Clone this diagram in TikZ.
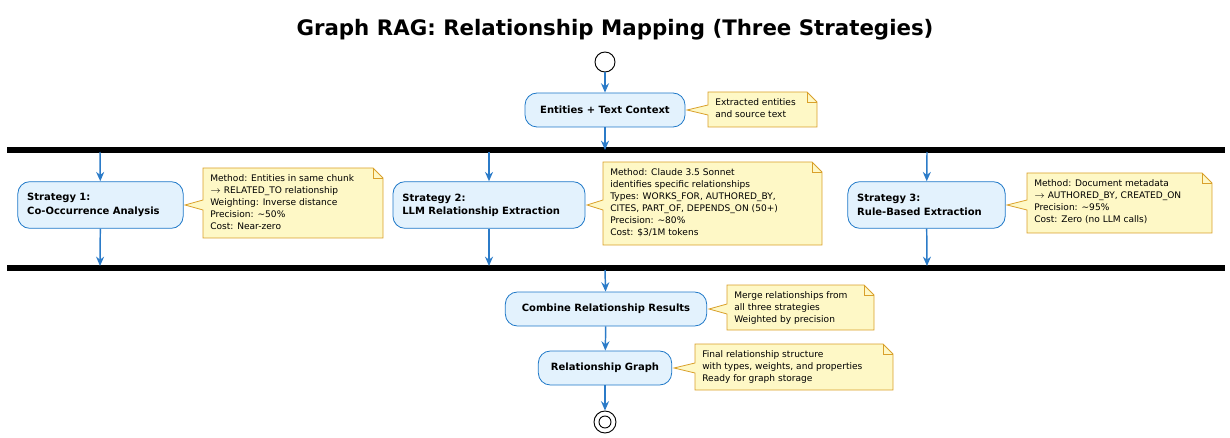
\documentclass[tikz,border=0pt]{standalone}
\usepackage{fontspec}
\setmainfont{DejaVu Sans}
\usetikzlibrary{arrows.meta}
\definecolor{actfill}{HTML}{E3F2FD}
\definecolor{actline}{HTML}{1E78C8}
\definecolor{notefill}{HTML}{FEF8C6}
\definecolor{noteline}{HTML}{D9A02A}
\definecolor{flow}{HTML}{2B7BC8}

\tikzset{
  act/.style={rectangle, rounded corners=9pt, draw=actline, fill=actfill, line width=0.6pt,
    font=\bfseries\fontsize{7.5}{10}\selectfont, align=left, inner sep=0pt},
  flowarr/.style={-{Stealth[length=7pt,width=6pt]}, draw=flow, line width=1.1pt},
  bar/.style={line width=4.5pt, black},
  notetxt/.style={font=\fontsize{6.8}{9}\selectfont, align=left, anchor=north west, inner sep=0pt}
}

% note: name, left x, top y, right x, bottom y, pointer tip x, pointer y, text
\newcommand{\notebox}[8]{
  \draw[draw=noteline, fill=notefill, line width=0.6pt]
    (#2,#3) -- (#4-10,#3) -- (#4,#3+10) -- (#4,#5) -- (#2,#5) -- (#2,#7+5)
    -- (#6,#7) -- (#2,#7-5) -- cycle;
  \draw[draw=noteline, line width=0.6pt] (#4-10,#3) -- (#4-10,#3+10) -- (#4,#3+10);
  \node[notetxt] (#1) at (#2+7,#3+6) {#8};
}

\begin{document}
\begin{tikzpicture}[x=0.75pt, y=-0.75pt]
\useasboundingbox (0,0) rectangle (1230,438);

% title
\node[font=\bfseries\fontsize{16}{19}\selectfont] (title) at (615,30) {Graph RAG: Relationship Mapping (Three Strategies)};

% start / end
\node[circle, draw, fill=white, line width=0.7pt, minimum size=15pt, inner sep=0pt] (start) at (605,62) {};
\node[circle, draw, fill=white, line width=0.7pt, minimum size=16.5pt, inner sep=0pt] (stop) at (605,422) {};
\draw[line width=0.7pt] (stop) circle (4.5pt);

% actions
\node[act, minimum width=120pt, minimum height=25.5pt, align=center] (ctx) at (605,110) {Entities + Text Context};
\node[act, minimum width=124pt, minimum height=35pt, text width=110pt] (s1) at (100.5,205) {Strategy 1:\\Co-Occurrence Analysis};
\node[act, minimum width=144pt, minimum height=35pt, text width=130pt] (s2) at (489,205) {Strategy 2:\\LLM Relationship Extraction};
\node[act, minimum width=118pt, minimum height=35pt, text width=104pt] (s3) at (926.5,205) {Strategy 3:\\Rule-Based Extraction};
\node[act, minimum width=151pt, minimum height=25.5pt, align=center] (comb) at (606,309) {Combine Relationship Results};
\node[act, minimum width=100pt, minimum height=25.5pt, align=center] (graph) at (605,368) {Relationship Graph};

% fork / join bars
\draw[bar] (7,150) -- (1225,150);
\draw[bar] (7,268) -- (1225,268);
\coordinate (f0) at (605,150);
\coordinate (f1) at (100,152);
\coordinate (f2) at (489,152);
\coordinate (f3) at (927,152);
\coordinate (j1) at (100,266);
\coordinate (j2) at (489,266);
\coordinate (j3) at (927,266);
\coordinate (j0) at (605,270);

% flow
\draw[flowarr] (start) -- (ctx);
\draw[flowarr] (ctx) -- (f0);
\foreach \i in {1,2,3} {
  \draw[flowarr] (f\i) -- (s\i);
  \draw[flowarr] (s\i) -- (j\i);
}
\draw[flowarr] (j0) -- (comb);
\draw[flowarr] (comb) -- (graph);
\draw[flowarr] (graph) -- (stop);

% notes
\notebox{n0}{708}{92}{817}{127}{687}{110}{Extracted entities\\and source text}
\notebox{n1}{203}{168}{383}{238}{185}{205}{Method: Entities in same chunk\\$\rightarrow$ RELATED\_TO relationship\\Weighting: Inverse distance\\Precision: \textasciitilde 50\%\\Cost: Near-zero}
\notebox{n2}{603}{162}{822}{245}{587}{205}{Method: Claude 3.5 Sonnet\\identifies specific relationships\\Types: WORKS\_FOR, AUTHORED\_BY,\\CITES, PART\_OF, DEPENDS\_ON (50+)\\Precision: \textasciitilde 80\%\\Cost: \$3/1M tokens}
\notebox{n3}{1027}{173}{1212}{233}{1007}{205}{Method: Document metadata\\$\rightarrow$ AUTHORED\_BY, CREATED\_ON\\Precision: \textasciitilde 95\%\\Cost: Zero (no LLM calls)}
\notebox{n4}{727}{285}{874}{330}{709}{309}{Merge relationships from\\all three strategies\\Weighted by precision}
\notebox{n5}{695}{344}{893}{390}{674}{368}{Final relationship structure\\with types, weights, and properties\\Ready for graph storage}

\end{tikzpicture}
\end{document}
